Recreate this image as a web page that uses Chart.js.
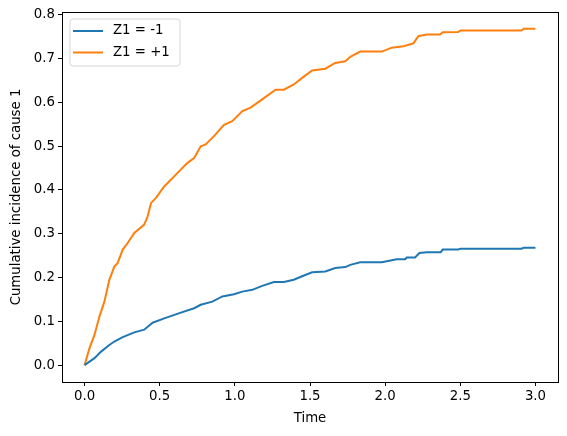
<!DOCTYPE html>
<html>
<head>
<meta charset="utf-8">
<script src="https://cdn.jsdelivr.net/npm/chart.js@4.4.0/dist/chart.umd.min.js"></script>
<style>
html, body { margin: 0; padding: 0; background: #fff; }
</style>
</head>
<body>
<canvas id="mycanvas" width="567" height="436"></canvas>
<script>
// series labels
var seriesLabels = ['Z1 = -1', 'Z1 = +1'];

// Z1 = -1
var timeNeg = [0, 0.066, 0.11, 0.165, 0.198, 0.254, 0.331, 0.397, 0.453, 0.53, 0.641, 0.729, 0.773, 0.85, 0.917, 0.994, 1.05, 1.116, 1.182, 1.26, 1.326, 1.392, 1.448, 1.514, 1.602, 1.668, 1.735, 1.768, 1.834, 1.978, 2.077, 2.133, 2.144, 2.199, 2.228, 2.277, 2.37, 2.383, 2.486, 2.502, 2.906, 2.922, 3.0];
var cifNeg = [0, 0.016, 0.031, 0.046, 0.054, 0.064, 0.075, 0.081, 0.097, 0.107, 0.12, 0.13, 0.138, 0.145, 0.157, 0.162, 0.168, 0.172, 0.181, 0.19, 0.19, 0.195, 0.203, 0.212, 0.214, 0.222, 0.224, 0.229, 0.235, 0.235, 0.242, 0.242, 0.246, 0.246, 0.256, 0.258, 0.258, 0.264, 0.264, 0.266, 0.266, 0.268, 0.268];

// Z1 = +1
var timePos = [0, 0.033, 0.066, 0.099, 0.132, 0.165, 0.198, 0.22, 0.254, 0.287, 0.331, 0.397, 0.42, 0.442, 0.475, 0.53, 0.619, 0.685, 0.729, 0.773, 0.806, 0.861, 0.928, 0.983, 1.05, 1.105, 1.182, 1.271, 1.326, 1.392, 1.448, 1.514, 1.602, 1.668, 1.735, 1.768, 1.834, 1.978, 2.044, 2.121, 2.188, 2.221, 2.277, 2.365, 2.383, 2.486, 2.502, 2.906, 2.922, 3.0];
var cifPos = [0, 0.039, 0.069, 0.111, 0.145, 0.195, 0.225, 0.233, 0.264, 0.279, 0.302, 0.321, 0.34, 0.37, 0.382, 0.408, 0.439, 0.462, 0.473, 0.5, 0.504, 0.523, 0.549, 0.557, 0.58, 0.588, 0.607, 0.629, 0.629, 0.641, 0.656, 0.673, 0.677, 0.69, 0.694, 0.704, 0.716, 0.716, 0.725, 0.728, 0.735, 0.751, 0.755, 0.755, 0.76, 0.761, 0.764, 0.764, 0.768, 0.768];

var xTicks = [0, 0.5, 1, 1.5, 2, 2.5, 3];
var yTicks = [0, 0.1, 0.2, 0.3, 0.4, 0.5, 0.6, 0.7, 0.8];
var colors = ['#1f77b4', '#ff7f0e'];

var font = { family: 'DejaVu Sans', size: 13.3 };

function points(xs, ys) {
	var out = [];
	for (var i in xs) {
		out.push({ x: xs[i], y: ys[i] });
	}
	return out;
}

// black frame round the plot area
var frame = {
	id: 'frame',
	afterDatasetsDraw: function(chart) {
		var a = chart.chartArea, ctx = chart.ctx;
		ctx.save();
		ctx.strokeStyle = '#000';
		ctx.lineWidth = 1;
		ctx.strokeRect(Math.round(a.left) + 0.5, Math.round(a.top) + 0.5, Math.round(a.right - a.left), Math.round(a.bottom - a.top));
		ctx.restore();
	}
};

// legend box in the upper left corner
var boxLegend = {
	id: 'boxLegend',
	afterDraw: function(chart) {
		var ctx = chart.ctx, a = chart.chartArea;
		var x = a.left + 8, y = a.top + 7, w = 110, h = 47, r = 3;
		ctx.save();
		ctx.beginPath();
		ctx.moveTo(x + r, y);
		ctx.arcTo(x + w, y, x + w, y + h, r);
		ctx.arcTo(x + w, y + h, x, y + h, r);
		ctx.arcTo(x, y + h, x, y, r);
		ctx.arcTo(x, y, x + w, y, r);
		ctx.closePath();
		ctx.fillStyle = 'rgba(255,255,255,0.8)';
		ctx.fill();
		ctx.strokeStyle = '#d6d6d6';
		ctx.lineWidth = 1;
		ctx.stroke();
		chart.data.datasets.forEach(function(ds, i) {
			var ly = y + 12 + i * 21.5;
			ctx.beginPath();
			ctx.moveTo(x + 3, ly);
			ctx.lineTo(x + 33, ly);
			ctx.strokeStyle = ds.borderColor;
			ctx.lineWidth = 2;
			ctx.stroke();
			ctx.fillStyle = '#000';
			ctx.font = '13.3px "DejaVu Sans"';
			ctx.textBaseline = 'middle';
			ctx.fillText(ds.label, x + 43, ly);
		});
		ctx.restore();
	}
};

var ctx = document.getElementById('mycanvas');

var cifChart = new Chart(ctx, {
	type: 'line',
	data: {
		datasets: [
			{
				label: seriesLabels[0],
				data: points(timeNeg, cifNeg),
				borderColor: colors[0],
				backgroundColor: colors[0],
				borderWidth: 2,
				pointRadius: 0,
				tension: 0,
				fill: false
			},
			{
				label: seriesLabels[1],
				data: points(timePos, cifPos),
				borderColor: colors[1],
				backgroundColor: colors[1],
				borderWidth: 2,
				pointRadius: 0,
				tension: 0,
				fill: false
			}
		]
	},
	options: {
		responsive: false,
		animation: false,
		devicePixelRatio: 1,
		layout: { padding: { top: 12, right: 9, left: 0, bottom: 0 } },
		plugins: {
			legend: { display: false },
			tooltip: { enabled: false }
		},
		scales: {
			x: {
				type: 'linear',
				min: -0.15,
				max: 3.15,
				afterBuildTicks: function(scale) {
					scale.ticks = xTicks.map(function(v) { return { value: v }; });
				},
				afterFit: function(scale) { scale.height = 54; },
				ticks: {
					font: font,
					color: '#000',
					padding: 3,
					maxRotation: 0,
					callback: function(v) { return v.toFixed(1); }
				},
				grid: { drawOnChartArea: false, drawTicks: true, tickLength: 4, color: '#000' },
				border: { display: true, color: '#000' },
				title: { display: true, text: 'Time', font: font, color: '#000', padding: { top: 0, bottom: 9 } }
			},
			y: {
				type: 'linear',
				min: -0.0384,
				max: 0.8064,
				afterBuildTicks: function(scale) {
					scale.ticks = yTicks.map(function(v) { return { value: v }; });
				},
				afterFit: function(scale) { scale.width = 62; },
				ticks: {
					font: font,
					color: '#000',
					padding: 3,
					callback: function(v) { return v.toFixed(1); }
				},
				grid: { drawOnChartArea: false, drawTicks: true, tickLength: 4, color: '#000' },
				border: { display: true, color: '#000' },
				title: { display: true, text: 'Cumulative incidence of cause 1', font: font, color: '#000', padding: { top: 9, bottom: 0 } }
			}
		}
	},
	plugins: [frame, boxLegend]
});
</script>
</body>
</html>
